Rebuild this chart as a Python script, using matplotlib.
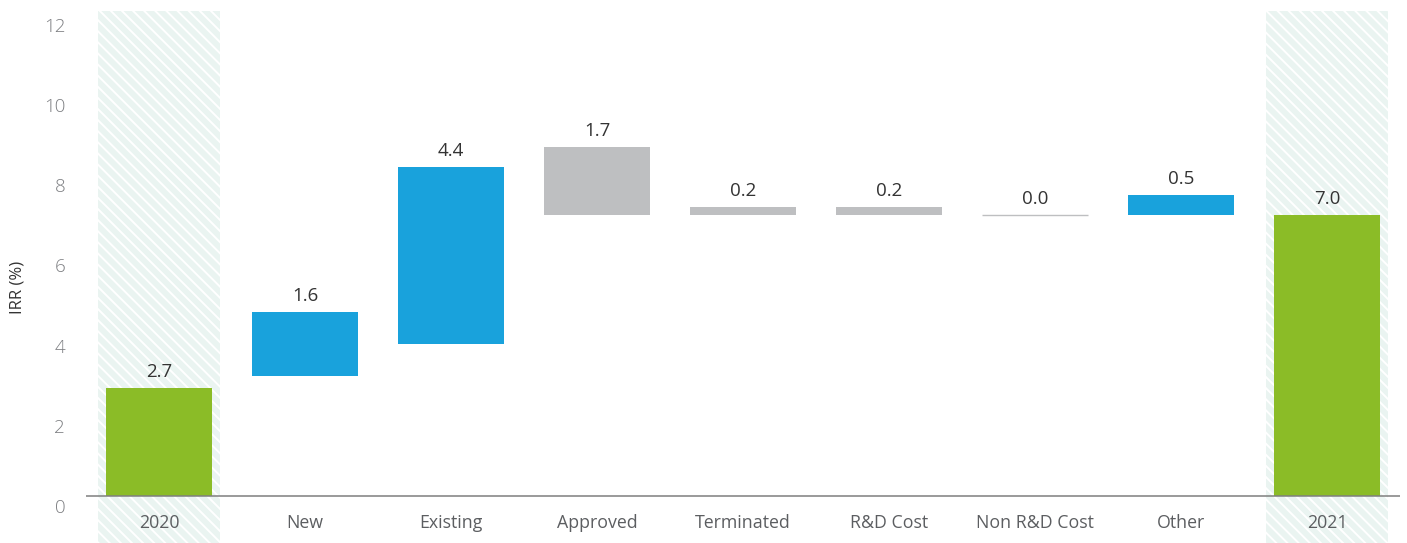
import matplotlib
matplotlib.use("Agg")
import matplotlib.pyplot as plt
from matplotlib.transforms import ScaledTranslation

plt.rcParams['font.family'] = ['Open Sans', 'DejaVu Sans']
plt.rcParams['hatch.linewidth'] = 1.4

# IRR bridge 2020 -> 2021
categories = ["2020", "New", "Existing", "Approved", "Terminated",
              "R&D Cost", "Non R&D Cost", "Other", "2021"]
values = [2.7, 1.6, 4.4, 1.7, 0.2, 0.2, 0.0, 0.5, 7.0]
bases = [0.0, 3.0, 3.8, 7.0, 7.0, 7.0, 7.0, 7.0, 0.0]
kinds = ["total", "up", "up", "down", "down", "down", "down", "up", "total"]
yticks = [0, 2, 4, 6, 8, 10, 12]

palette = {"total": "#8BBC27", "up": "#19A2DC", "down": "#BEBFC1"}

fig = plt.figure(figsize=(14.07, 5.43), dpi=100)
ax = fig.add_axes([86 / 1407, 0.0, (1400 - 86) / 1407, 1 - 11 / 543])

x = list(range(len(categories)))

# hatched highlight columns behind the start and end totals
for i, k in enumerate(kinds):
    if k == "total":
        ax.axvspan(i - 0.418, i + 0.418, facecolor="#EAF4F1", edgecolor="white",
                   hatch="\\\\\\", linewidth=0, zorder=0)

colors = [palette[k] for k in kinds]
for i in x:
    lw = 1.0 if values[i] == 0 else 0
    ax.bar(i, values[i], bottom=bases[i], width=0.726, color=colors[i],
           edgecolor=colors[i], linewidth=lw, zorder=2)
    ax.annotate(f"{values[i]:.1f}", xy=(i, bases[i] + values[i]),
                xytext=(0, 11.5), textcoords="offset points",
                ha="center", va="center", fontsize=13.5, color="#333333", zorder=3)
    # category name under the baseline
    ax.annotate(categories[i], xy=(i, 0), xytext=(0, -19.2), textcoords="offset points",
                ha="center", va="center", fontsize=12.8, color="#5C5E61", zorder=3)

ax.axhline(0, color="#7F7F7F", linewidth=1.1, zorder=3)

ax.set_xlim(-0.5, 8.5)
ax.set_ylim(-47 / 40.1, 485 / 40.1)

ax.set_xticks([])

ax.set_yticks(yticks)
ax.set_yticklabels([str(t) for t in yticks], fontsize=13.5, color="#7D7F82",
                   fontweight="light")
ax.tick_params(axis="y", length=0, pad=15)
shift = ScaledTranslation(0, -10 / 100, fig.dpi_scale_trans)
for lab in ax.get_yticklabels():
    lab.set_transform(lab.get_transform() + shift)

for s in ax.spines.values():
    s.set_visible(False)

fig.text(17 / 1407, 1 - 287 / 543, "IRR (%)", rotation=90, ha="center", va="center",
         fontsize=12, color="#333333")

fig.savefig("out.png", dpi=100)
